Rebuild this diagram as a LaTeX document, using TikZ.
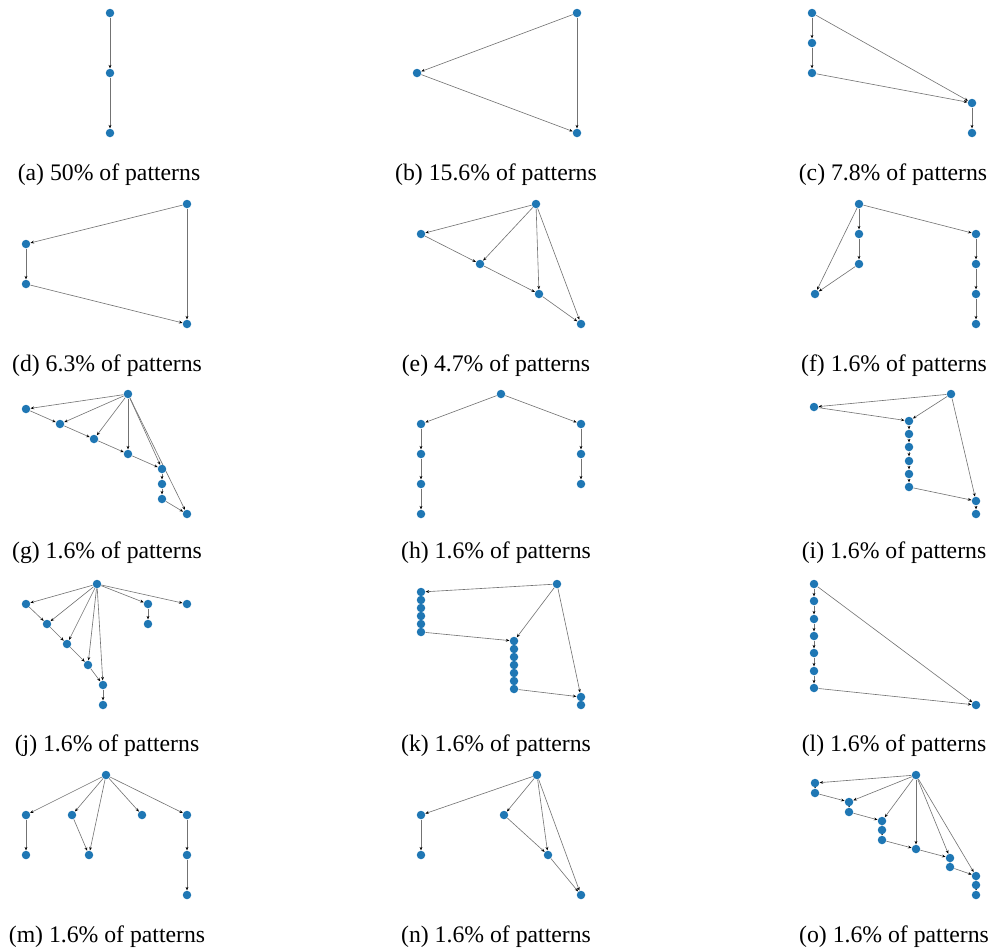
\documentclass[tikz,border=0pt]{standalone}
\usepackage{fontspec}
\setmainfont{Liberation Serif}
\usetikzlibrary{arrows.meta,backgrounds}
\definecolor{nodeblue}{HTML}{1F77B4}

\begin{document}
\begin{tikzpicture}[
  x=0.02cm, y=-0.02cm,
  every node/.style={circle, fill=nodeblue, minimum size=0.17cm, inner sep=0pt},
  flow/.style={draw, ->, >={Stealth[length=2pt,width=1.6pt,black]}, black!55, line width=0.35pt},
  caption/.style={rectangle, fill=none, inner sep=0pt, font=\fontsize{13.5}{16}\selectfont}
]
\useasboundingbox (0,0) rectangle (993,951);

% (a)
\node (a1) at (110,13) {};
\node (a2) at (110,73) {};
\node (a3) at (110,133) {};
\begin{scope}[on background layer]
\draw[flow] (a1) -- (a2);
\draw[flow] (a2) -- (a3);
\end{scope}
\node[caption] (capa) at (109,175) {(a) 50\% of patterns};

% (b)
\node (b1) at (577,13) {};
\node (b2) at (417,73) {};
\node (b3) at (577,133) {};
\begin{scope}[on background layer]
\draw[flow] (b1) -- (b2);
\draw[flow] (b2) -- (b3);
\draw[flow] (b1) -- (b3);
\end{scope}
\node[caption] (capb) at (496,175) {(b) 15.6\% of patterns};

% (c)
\node (c1) at (812,13) {};
\node (c2) at (812,43) {};
\node (c3) at (812,73) {};
\node (c4) at (972,103) {};
\node (c5) at (972,133) {};
\begin{scope}[on background layer]
\draw[flow] (c1) -- (c2);
\draw[flow] (c2) -- (c3);
\draw[flow] (c3) -- (c4);
\draw[flow] (c1) -- (c4);
\draw[flow] (c4) -- (c5);
\end{scope}
\node[caption] (capc) at (893,175) {(c) 7.8\% of patterns};

% (d)
\node (d1) at (187,204) {};
\node (d2) at (26,244) {};
\node (d3) at (26,284) {};
\node (d4) at (187,324) {};
\begin{scope}[on background layer]
\draw[flow] (d1) -- (d2);
\draw[flow] (d2) -- (d3);
\draw[flow] (d3) -- (d4);
\draw[flow] (d1) -- (d4);
\end{scope}
\node[caption] (capd) at (107,366) {(d) 6.3\% of patterns};

% (e)
\node (e0) at (536,204) {};
\node (e1) at (421,234) {};
\node (e2) at (480,264) {};
\node (e3) at (539,294) {};
\node (e4) at (581,324) {};
\begin{scope}[on background layer]
\draw[flow] (e0) -- (e1);
\draw[flow] (e1) -- (e2);
\draw[flow] (e0) -- (e2);
\draw[flow] (e2) -- (e3);
\draw[flow] (e0) -- (e3);
\draw[flow] (e3) -- (e4);
\draw[flow] (e0) -- (e4);
\end{scope}
\node[caption] (cape) at (496,366) {(e) 4.7\% of patterns};

% (f)
\node (f0) at (859,204) {};
\node (f1) at (859,234) {};
\node (f2) at (859,264) {};
\node (f3) at (815,294) {};
\node (f4) at (976,234) {};
\node (f5) at (976,264) {};
\node (f6) at (976,294) {};
\node (f7) at (976,324) {};
\begin{scope}[on background layer]
\draw[flow] (f0) -- (f1);
\draw[flow] (f1) -- (f2);
\draw[flow] (f2) -- (f3);
\draw[flow] (f0) -- (f3);
\draw[flow] (f0) -- (f4);
\draw[flow] (f4) -- (f5);
\draw[flow] (f5) -- (f6);
\draw[flow] (f6) -- (f7);
\end{scope}
\node[caption] (capf) at (894,366) {(f) 1.6\% of patterns};

% (g)
\node (g0) at (128,394) {};
\node (g1) at (26,409) {};
\node (g2) at (60,424) {};
\node (g3) at (94,439) {};
\node (g4) at (128,454) {};
\node (g5) at (162,469) {};
\node (g6) at (162,484) {};
\node (g7) at (162,499) {};
\node (g8) at (187,514) {};
\begin{scope}[on background layer]
\draw[flow] (g0) -- (g1);
\draw[flow] (g1) -- (g2);
\draw[flow] (g0) -- (g2);
\draw[flow] (g2) -- (g3);
\draw[flow] (g0) -- (g3);
\draw[flow] (g3) -- (g4);
\draw[flow] (g0) -- (g4);
\draw[flow] (g4) -- (g5);
\draw[flow] (g0) -- (g5);
\draw[flow] (g5) -- (g6);
\draw[flow] (g6) -- (g7);
\draw[flow] (g7) -- (g8);
\draw[flow] (g0) -- (g8);
\end{scope}
\node[caption] (capg) at (107,553) {(g) 1.6\% of patterns};

% (h)
\node (h0) at (501,394) {};
\node (h1) at (421,424) {};
\node (h2) at (421,454) {};
\node (h3) at (421,484) {};
\node (h4) at (421,514) {};
\node (h5) at (581,424) {};
\node (h6) at (581,454) {};
\node (h7) at (581,484) {};
\begin{scope}[on background layer]
\draw[flow] (h0) -- (h1);
\draw[flow] (h1) -- (h2);
\draw[flow] (h2) -- (h3);
\draw[flow] (h3) -- (h4);
\draw[flow] (h0) -- (h5);
\draw[flow] (h5) -- (h6);
\draw[flow] (h6) -- (h7);
\end{scope}
\node[caption] (caph) at (496,553) {(h) 1.6\% of patterns};

% (i)
\node (i0) at (951,394) {};
\node (i1) at (814,407) {};
\foreach \n/\y in {2/421,3/434,4/447,5/461,6/474,7/487}
  \node (i\n) at (909,\y) {};
\node (i8) at (976,501) {};
\node (i9) at (976,514) {};
\begin{scope}[on background layer]
\draw[flow] (i0) -- (i1);
\draw[flow] (i1) -- (i2);
\draw[flow] (i0) -- (i2);
\foreach \a/\b in {2/3,3/4,4/5,5/6,6/7}
  \draw[flow] (i\a) -- (i\b);
\draw[flow] (i7) -- (i8);
\draw[flow] (i0) -- (i8);
\draw[flow] (i8) -- (i9);
\end{scope}
\node[caption] (capi) at (894,553) {(i) 1.6\% of patterns};

% (j)
\node (j0) at (97,584) {};
\node (j1) at (26,604) {};
\node (j2) at (47,624) {};
\node (j3) at (67,644) {};
\node (j4) at (88,665) {};
\node (j5) at (103,685) {};
\node (j6) at (103,705) {};
\node (j7) at (148,604) {};
\node (j8) at (148,624) {};
\node (j9) at (187,604) {};
\begin{scope}[on background layer]
\draw[flow] (j0) -- (j1);
\draw[flow] (j1) -- (j2);
\draw[flow] (j0) -- (j2);
\draw[flow] (j2) -- (j3);
\draw[flow] (j0) -- (j3);
\draw[flow] (j3) -- (j4);
\draw[flow] (j0) -- (j4);
\draw[flow] (j4) -- (j5);
\draw[flow] (j0) -- (j5);
\draw[flow] (j5) -- (j6);
\draw[flow] (j0) -- (j7);
\draw[flow] (j7) -- (j8);
\draw[flow] (j0) -- (j9);
\end{scope}
\node[caption] (capj) at (107,746) {(j) 1.6\% of patterns};

% (k)
\node (k0) at (557,584) {};
\foreach \n/\y in {1/592,2/600,3/608,4/616,5/624,6/632}
  \node (k\n) at (421,\y) {};
\foreach \n/\y in {7/641,8/649,9/657,10/665,11/673,12/681,13/689}
  \node (k\n) at (514,\y) {};
\node (k14) at (581,697) {};
\node (k15) at (581,705) {};
\begin{scope}[on background layer]
\draw[flow] (k0) -- (k1);
\foreach \a/\b in {1/2,2/3,3/4,4/5,5/6,6/7,7/8,8/9,9/10,10/11,11/12,12/13,13/14,14/15}
  \draw[flow] (k\a) -- (k\b);
\draw[flow] (k0) -- (k7);
\draw[flow] (k0) -- (k14);
\end{scope}
\node[caption] (capk) at (496,746) {(k) 1.6\% of patterns};

% (l)
\foreach \n/\y in {1/584,2/601,3/619,4/636,5/653,6/671,7/688}
  \node (l\n) at (814,\y) {};
\node (l8) at (976,705) {};
\begin{scope}[on background layer]
\foreach \a/\b in {1/2,2/3,3/4,4/5,5/6,6/7,7/8}
  \draw[flow] (l\a) -- (l\b);
\draw[flow] (l1) -- (l8);
\end{scope}
\node[caption] (capl) at (894,746) {(l) 1.6\% of patterns};

% (m)
\node (m0) at (106,775) {};
\node (m1) at (26,815) {};
\node (m2) at (26,855) {};
\node (m3) at (72,815) {};
\node (m4) at (89,855) {};
\node (m5) at (142,815) {};
\node (m6) at (187,815) {};
\node (m7) at (187,855) {};
\node (m8) at (187,895) {};
\begin{scope}[on background layer]
\draw[flow] (m0) -- (m1);
\draw[flow] (m1) -- (m2);
\draw[flow] (m0) -- (m3);
\draw[flow] (m3) -- (m4);
\draw[flow] (m0) -- (m4);
\draw[flow] (m0) -- (m5);
\draw[flow] (m0) -- (m6);
\draw[flow] (m6) -- (m7);
\draw[flow] (m7) -- (m8);
\end{scope}
\node[caption] (capm) at (107,937) {(m) 1.6\% of patterns};

% (n)
\node (n0) at (537,775) {};
\node (n1) at (421,815) {};
\node (n2) at (421,855) {};
\node (n3) at (504,815) {};
\node (n4) at (548,855) {};
\node (n5) at (581,895) {};
\begin{scope}[on background layer]
\draw[flow] (n0) -- (n1);
\draw[flow] (n1) -- (n2);
\draw[flow] (n0) -- (n3);
\draw[flow] (n3) -- (n4);
\draw[flow] (n0) -- (n4);
\draw[flow] (n4) -- (n5);
\draw[flow] (n0) -- (n5);
\end{scope}
\node[caption] (capn) at (496,937) {(n) 1.6\% of patterns};

% (o)
\node (o0) at (916,775) {};
\node (o1) at (815,783) {};
\node (o2) at (815,793) {};
\node (o3) at (849,802) {};
\node (o4) at (849,812) {};
\node (o5) at (882,821) {};
\node (o6) at (882,830) {};
\node (o7) at (882,840) {};
\node (o8) at (916,849) {};
\node (o9) at (950,858) {};
\node (o10) at (950,867) {};
\node (o11) at (976,876) {};
\node (o12) at (976,885) {};
\node (o13) at (976,895) {};
\begin{scope}[on background layer]
\foreach \a/\b in {1/2,2/3,3/4,4/5,5/6,6/7,7/8,8/9,9/10,10/11,11/12,12/13}
  \draw[flow] (o\a) -- (o\b);
\foreach \b in {1,3,5,8,9,11}
  \draw[flow] (o0) -- (o\b);
\end{scope}
\node[caption] (capo) at (894,937) {(o) 1.6\% of patterns};

\end{tikzpicture}
\end{document}
